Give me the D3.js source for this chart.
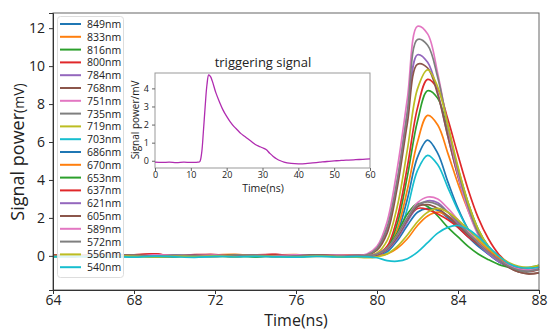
<!DOCTYPE html>
<html>
<head>
<meta charset="utf-8">
<script src="https://cdn.jsdelivr.net/npm/d3@7"></script>
<style>
  body { margin: 0; background: #fff; }
  text { font-family: "Open Sans", "DejaVu Sans", sans-serif; fill: #222; }
</style>
</head>
<body>
<div id="chart"></div>
<script>
// wavelengths shown in the legend, in plotting order
var wavelengths = ["849nm","833nm","816nm","800nm","784nm","768nm","751nm","735nm","719nm","703nm",
                   "686nm","670nm","653nm","637nm","621nm","605nm","589nm","572nm","556nm","540nm"];
var palette = ["#1f77b4","#ff7f0e","#2ca02c","#e0282a","#9467bd","#8c564b","#e377c2","#7f7f7f","#bcbd22","#17becf"];

// time axis (ns) shared by all main series
var times = [64,65,66,67,68,69,70,71,72,73,74,75,76,77,78,79,
             79.5,80,80.5,81,81.5,82,82.5,83,83.5,84,84.5,85,85.5,86,86.5,87,87.5,88];

// signal power (mV), one row per wavelength
var signals = [
  [0.02,-0.04,0.05,-0.02,0.03,-0.05,0.04,0.0,-0.03,0.05,-0.02,0.03,-0.04,0.02,0.0,0.03, 0.0,0.03,0.3,1.2,3.0,5.2,6.1,5.4,3.9,2.5,1.4,0.6,0.1,-0.3,-0.55,-0.7,-0.7,-0.6],
  [-0.03,0.05,0.0,0.06,-0.04,0.02,-0.02,0.05,0.01,-0.04,0.03,0.0,0.05,-0.03,0.02,0.0, 0.0,0.05,0.35,1.4,3.5,6.0,7.4,6.9,5.4,3.8,2.4,1.2,0.4,-0.1,-0.5,-0.65,-0.7,-0.6],
  [0.04,0.0,-0.03,0.03,0.05,-0.02,0.0,-0.04,0.04,0.02,-0.05,0.02,0.0,0.04,-0.02,0.02, 0.0,0.05,0.4,1.7,4.2,7.1,8.7,8.3,6.6,4.6,2.8,1.4,0.5,-0.1,-0.5,-0.7,-0.7,-0.55],
  [0.0,0.06,-0.02,0.08,0.02,0.1,-0.03,0.05,0.07,-0.02,0.04,0.06,-0.03,0.05,0.02,0.04, 0.0,0.1,0.5,2.0,4.7,7.8,9.3,8.8,7.2,5.3,3.5,2.0,0.9,0.1,-0.4,-0.7,-0.8,-0.7],
  [0.03,-0.02,0.04,0.0,-0.04,0.03,0.05,-0.02,0.0,0.04,-0.03,0.02,0.05,0.0,-0.02,0.04, 0.05,0.35,1.4,3.9,7.5,10.6,10.2,8.6,6.3,4.2,2.5,1.2,0.4,-0.2,-0.5,-0.7,-0.8,-0.65],
  [-0.02,0.03,0.0,-0.04,0.04,0.0,0.02,-0.03,0.04,0.0,0.03,-0.04,0.02,0.03,-0.02,0.02, 0.03,0.3,1.2,3.6,7.0,10.1,9.9,8.5,6.3,4.2,2.5,1.2,0.4,-0.2,-0.6,-0.85,-0.95,-0.9],
  [0.05,0.0,0.03,-0.03,0.02,0.05,-0.02,0.03,0.0,0.05,-0.02,0.04,0.0,0.03,0.05,0.04, 0.1,0.5,1.8,4.6,8.3,12.1,11.7,9.6,6.8,4.3,2.4,1.1,0.3,-0.2,-0.5,-0.7,-0.75,-0.6],
  [0.0,0.04,-0.03,0.02,0.0,-0.04,0.03,0.0,0.04,-0.03,0.02,0.0,0.03,-0.02,0.03,0.02, 0.05,0.4,1.5,4.0,7.6,11.4,11.1,9.4,6.9,4.5,2.6,1.2,0.4,-0.2,-0.55,-0.8,-0.85,-0.7],
  [-0.04,0.02,0.0,-0.03,0.03,-0.05,0.0,0.02,-0.04,0.01,-0.02,0.03,-0.05,0.0,-0.03,0.0, 0.0,0.15,0.8,2.6,5.6,8.8,9.8,8.9,6.9,4.7,2.8,1.4,0.5,-0.1,-0.5,-0.7,-0.75,-0.6],
  [-0.03,-0.06,0.0,-0.04,-0.02,-0.05,0.0,-0.04,-0.03,0.0,-0.05,-0.02,-0.04,0.0,-0.03,-0.05, -0.05,0.0,0.2,0.9,2.5,4.5,5.3,4.8,3.6,2.4,1.4,0.7,0.2,-0.2,-0.45,-0.6,-0.6,-0.5],
  [0.02,0.0,-0.03,0.04,0.0,-0.02,0.03,-0.04,0.02,0.0,0.03,-0.03,0.0,0.02,-0.02,0.0, 0.0,0.03,0.25,0.8,1.6,2.3,2.5,2.4,2.0,1.5,1.0,0.5,0.1,-0.3,-0.55,-0.65,-0.7,-0.6],
  [0.05,0.02,0.06,-0.01,0.04,0.07,0.0,0.03,0.05,0.08,0.01,0.04,0.06,0.0,0.03,0.02, -0.05,0.0,0.1,0.4,0.9,1.6,2.1,2.3,2.1,1.7,1.2,0.8,0.3,-0.1,-0.4,-0.6,-0.65,-0.55],
  [-0.02,0.03,-0.04,0.0,0.02,-0.03,-0.05,0.01,-0.02,0.03,-0.04,0.0,-0.06,0.02,-0.03,-0.05, 0.0,0.05,0.4,1.2,2.2,2.75,2.6,2.1,1.5,1.0,0.5,0.1,-0.2,-0.45,-0.6,-0.75,-0.7,-0.5],
  [0.04,-0.03,0.07,0.0,0.05,0.1,-0.02,0.06,0.02,-0.04,0.05,0.08,-0.03,0.04,0.0,0.03, 0.0,0.05,0.35,1.0,1.9,2.5,2.45,2.2,1.9,1.5,1.0,0.6,0.2,-0.2,-0.5,-0.7,-0.8,-0.7],
  [0.0,0.03,-0.02,0.05,-0.03,0.02,0.0,0.04,-0.02,0.03,0.0,-0.03,0.04,0.0,0.02,-0.02, 0.0,0.05,0.3,0.9,1.8,2.6,2.9,2.8,2.3,1.7,1.1,0.6,0.1,-0.3,-0.55,-0.7,-0.75,-0.6],
  [0.03,0.0,0.04,-0.02,0.03,0.0,-0.03,0.02,0.05,0.0,-0.02,0.03,0.0,0.04,-0.02,0.01, 0.0,0.05,0.35,1.0,1.9,2.6,2.7,2.5,2.1,1.6,1.1,0.6,0.2,-0.2,-0.6,-0.85,-0.95,-0.9],
  [-0.02,0.04,0.0,0.03,-0.03,0.05,0.02,0.0,0.04,-0.02,0.03,0.0,0.05,-0.02,0.02,0.03, 0.0,0.1,0.4,1.1,2.0,2.8,3.1,3.0,2.5,1.9,1.3,0.7,0.2,-0.2,-0.5,-0.7,-0.75,-0.6],
  [0.01,-0.03,0.02,0.0,0.04,-0.02,0.03,0.0,-0.03,0.02,0.04,-0.02,0.0,0.03,-0.01,0.02, 0.0,0.1,0.4,1.1,2.0,2.7,2.85,2.7,2.3,1.8,1.2,0.7,0.2,-0.2,-0.55,-0.75,-0.8,-0.7],
  [-0.04,-0.01,-0.05,0.0,-0.03,-0.06,-0.02,-0.04,0.0,-0.05,-0.02,-0.04,-0.06,-0.01,-0.04,-0.07, -0.1,-0.05,0.1,0.5,1.1,1.8,2.3,2.5,2.3,1.9,1.4,0.9,0.4,0.0,-0.35,-0.55,-0.6,-0.5],
  [-0.05,-0.02,-0.06,-0.03,-0.07,-0.01,-0.05,-0.08,-0.03,-0.06,-0.02,-0.05,-0.07,-0.03,-0.06,-0.04, -0.05,-0.1,-0.25,-0.28,-0.15,0.2,0.7,1.2,1.5,1.6,1.4,1.0,0.5,0.0,-0.4,-0.6,-0.65,-0.6]
];

var xTicks = [64,68,72,76,80,84,88];
var yTicks = [0,2,4,6,8,10,12];

// inset: triggering signal
var trigTimes = [0,2,4,6,8,10,12,12.5,13,13.5,14,14.5,15,15.5,16,17,18,19,20,21,22,23,24,25,26,27,28,29,30,31,32,33,34,35,36,38,40,42,44,46,48,50,52,54,56,58,60];
var trigValues = [-0.07,-0.09,-0.08,-0.1,-0.08,-0.09,-0.08,-0.05,0.4,1.6,3.0,4.2,4.75,4.65,4.4,3.75,3.25,2.8,2.45,2.15,1.9,1.7,1.5,1.35,1.2,1.05,0.9,0.8,0.72,0.62,0.42,0.24,0.1,0.0,-0.07,-0.14,-0.17,-0.16,-0.12,-0.08,-0.04,-0.01,0.02,0.04,0.06,0.08,0.1];
var trigXTicks = [0,10,20,30,40,50,60];
var trigYTicks = [0,1,2,3,4];

var width = 550, height = 335;
var svg = d3.select("#chart").append("svg")
  .attr("width", width).attr("height", height);
svg.append("rect").attr("width", width).attr("height", height).attr("fill", "#fff");

var x = d3.scaleLinear().domain([64, 88]).range([53, 539]);
var y = d3.scaleLinear().domain([-1.8, 12.8]).range([290, 13]);

var line = d3.line()
  .x(function(d){ return x(d[0]); })
  .y(function(d){ return y(d[1]); })
  .curve(d3.curveCatmullRom.alpha(0.5));

var plot = svg.append("g");
signals.forEach(function(vals, i){
  plot.append("path")
    .datum(vals.map(function(v, j){ return [times[j], v]; }))
    .attr("d", line)
    .attr("fill", "none")
    .attr("stroke", palette[i % 10])
    .attr("stroke-width", 1.7);
});

// frame
svg.append("rect")
  .attr("x", x(64)).attr("y", y(12.8))
  .attr("width", x(88) - x(64)).attr("height", y(-1.8) - y(12.8))
  .attr("fill", "none").attr("stroke", "#666").attr("stroke-width", 1);

var xAxis = svg.append("g").attr("transform", "translate(0," + y(-1.8) + ")")
  .call(d3.axisBottom(x).tickValues(xTicks).tickSize(4).tickPadding(1));
var yAxis = svg.append("g").attr("transform", "translate(" + x(64) + ",0)")
  .call(d3.axisLeft(y).tickValues(yTicks).tickSize(4).tickPadding(4));
[xAxis, yAxis].forEach(function(a){
  a.select(".domain").attr("stroke", "#333");
  a.selectAll(".tick line").attr("stroke", "#333");
  a.selectAll("text").attr("font-size", 14).attr("font-family", "'Open Sans', sans-serif").attr("fill", "#222");
});

svg.append("text").attr("x", 296).attr("y", 326).attr("text-anchor", "middle")
  .attr("font-size", 16).text("Time(ns)");
var yl = svg.append("text").attr("transform", "translate(24,152) rotate(-90)")
  .attr("text-anchor", "middle").attr("font-size", 18);
yl.append("tspan").text("Signal power");
yl.append("tspan").attr("font-size", 14).text("(mV)");

// legend
var leg = svg.append("g");
leg.append("rect").attr("x", 57.5).attr("y", 16.5).attr("width", 66).attr("height", 261)
  .attr("rx", 3).attr("fill", "#fff").attr("fill-opacity", 0.85)
  .attr("stroke", "#ddd").attr("stroke-width", 1);
wavelengths.forEach(function(name, i){
  var ly = 24 + i * 12.8;
  leg.append("line").attr("x1", 60).attr("x2", 81).attr("y1", ly).attr("y2", ly)
    .attr("stroke", palette[i % 10]).attr("stroke-width", 2);
  leg.append("text").attr("x", 87).attr("y", ly + 4)
    .attr("font-size", 10.5).attr("font-family", "'DejaVu Sans', sans-serif").attr("fill", "#333")
    .text(name);
});

// inset
var xi = d3.scaleLinear().domain([0, 60]).range([155, 370]);
var yi = d3.scaleLinear().domain([-0.4, 4.85]).range([168, 73]);
var inset = svg.append("g");
inset.append("rect").attr("x", xi(0)).attr("y", yi(4.85))
  .attr("width", xi(60) - xi(0)).attr("height", yi(-0.4) - yi(4.85))
  .attr("fill", "#fff").attr("stroke", "#999").attr("stroke-width", 1);
inset.append("path")
  .datum(trigTimes.map(function(t, j){ return [t, trigValues[j]]; }))
  .attr("d", d3.line().x(function(d){ return xi(d[0]); }).y(function(d){ return yi(d[1]); })
    .curve(d3.curveCatmullRom.alpha(0.5)))
  .attr("fill", "none").attr("stroke", "#b02cb0").attr("stroke-width", 1.3);
var ixa = inset.append("g").attr("transform", "translate(0," + yi(-0.4) + ")")
  .call(d3.axisBottom(xi).tickValues(trigXTicks).tickFormat(d3.format("d")).tickSize(3).tickPadding(1));
var iya = inset.append("g").attr("transform", "translate(" + xi(0) + ",0)")
  .call(d3.axisLeft(yi).tickValues(trigYTicks).tickFormat(d3.format("d")).tickSize(3).tickPadding(3));
[ixa, iya].forEach(function(a){
  a.select(".domain").remove();
  a.selectAll(".tick line").attr("stroke", "#666");
  a.selectAll("text").attr("font-size", 9).attr("font-family", "'Open Sans', sans-serif").attr("fill", "#333");
});
inset.append("text").attr("x", 263).attr("y", 192).attr("text-anchor", "middle")
  .attr("font-size", 10.5).attr("fill", "#333").text("Time(ns)");
inset.append("text").attr("x", 263).attr("y", 67).attr("text-anchor", "middle")
  .attr("font-size", 13).text("triggering signal");
inset.append("text").attr("transform", "translate(139,120) rotate(-90)")
  .attr("text-anchor", "middle").attr("font-size", 10).attr("fill", "#333").text("Signal power/mV");
</script>
</body>
</html>
